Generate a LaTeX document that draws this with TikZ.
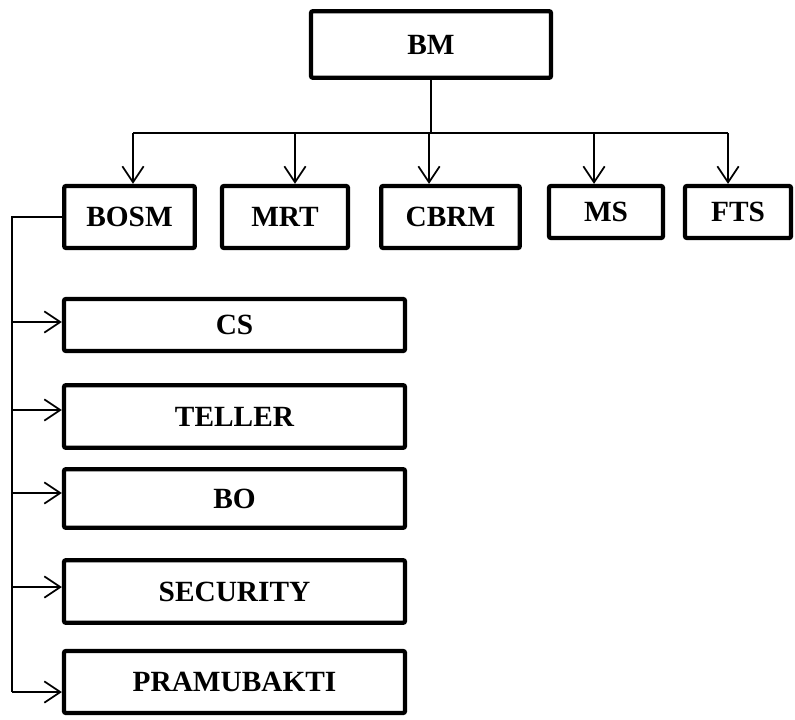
\documentclass[tikz,border=0pt]{standalone}
\usepackage{fontspec}
\setmainfont{Liberation Serif}
\usetikzlibrary{arrows.meta}

\begin{document}
\begin{tikzpicture}[
  x=0.75pt,y=-0.75pt,
  box/.style={draw,line width=3.2pt,rounded corners=1.5pt,minimum height=46.5pt,
    inner sep=0pt,align=center,font=\fontsize{22}{26}\selectfont\bfseries},
  sub/.style={box,minimum width=255.75pt},
  line/.style={line width=1.3pt},
  arrow/.style={line,-{Straight Barb[length=12pt,width=16pt]}}
]
\useasboundingbox (0,0) rectangle (795,720);
% top level
\node[box,minimum width=180pt,minimum height=50pt] (bm) at (431,44.5) {BM};
\node[box,minimum width=98pt] (bosm) at (129.5,217) {BOSM};
\node[box,minimum width=94.5pt] (mrt) at (285,217) {MRT};
\node[box,minimum width=104pt] (cbrm) at (450.5,217) {CBRM};
\node[box,minimum width=85.5pt,minimum height=39pt] (ms) at (606,212) {MS};
\node[box,minimum width=79.5pt,minimum height=39pt] (fts) at (738,212) {FTS};
% under BOSM
\node[sub,minimum height=39pt] (cs) at (234.5,325) {CS};
\node[sub,minimum height=47pt] (teller) at (234.5,416.5) {TELLER};
\node[sub,minimum height=44pt] (bo) at (234.5,498.5) {BO};
\node[sub,minimum height=47pt] (security) at (234.5,591.5) {SECURITY};
\node[sub] (pramubakti) at (234.5,682) {PRAMUBAKTI};
% bus
\coordinate (b1) at (133,133);
\coordinate (b2) at (295,133);
\coordinate (b3) at (429,133);
\coordinate (b4) at (594,133);
\coordinate (b5) at (728,133);
\draw[line] (bm.south) -- (bm.south |- b1);
\draw[line] (b1) -- (b5);
\draw[arrow] (b1) -- (b1 |- bosm.north);
\draw[arrow] (b2) -- (b2 |- mrt.north);
\draw[arrow] (b3) -- (b3 |- cbrm.north);
\draw[arrow] (b4) -- (b4 |- ms.north);
\draw[arrow] (b5) -- (b5 |- fts.north);
% spine
\coordinate (s1) at (12,322);
\coordinate (s2) at (12,410);
\coordinate (s3) at (12,493);
\coordinate (s4) at (12,587);
\coordinate (s5) at (12,692);
\draw[line] (bosm.west) -| (s5);
\draw[arrow] (s1) -- (s1 -| cs.west);
\draw[arrow] (s2) -- (s2 -| teller.west);
\draw[arrow] (s3) -- (s3 -| bo.west);
\draw[arrow] (s4) -- (s4 -| security.west);
\draw[arrow] (s5) -- (s5 -| pramubakti.west);
\end{tikzpicture}
\end{document}
